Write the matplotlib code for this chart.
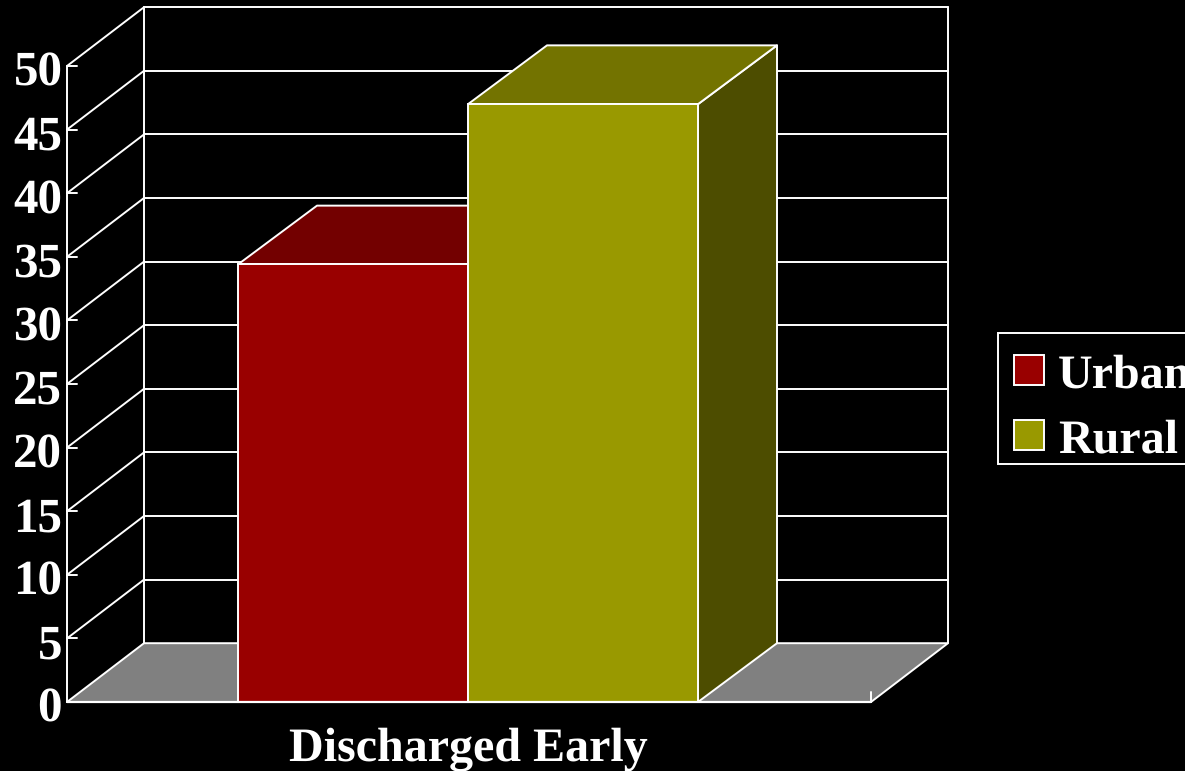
import matplotlib
matplotlib.use("Agg")
import matplotlib.pyplot as plt
from matplotlib.patches import Polygon, Rectangle

categories = ["Discharged Early"]
series_names = ["Urban", "Rural"]
series_values = [34.4, 47.0]
front_colors = ["#990000", "#999900"]
top_colors = ["#730000", "#737300"]
side_colors = ["#4d0000", "#4d4d00"]
y_ticks = [0, 5, 10, 15, 20, 25, 30, 35, 40, 45, 50]

W, H = 1185, 771
DPI = 100
LW = 1.4
FS = 34.6

plt.rcParams["font.family"] = ["Liberation Serif", "DejaVu Serif"]
plt.rcParams["font.weight"] = "bold"
plt.rcParams["text.hinting"] = "no_hinting"
plt.rcParams["text.hinting_factor"] = 1

fig = plt.figure(figsize=(W / DPI, H / DPI), dpi=DPI, facecolor="black")
# axes box is the front plane of the 3d frame
ax = fig.add_axes([67 / W, 1 - 702 / H, 804 / W, 636 / H])
ax.set_xlim(0, 1)
ax.set_ylim(0, 50)
ax.axis("off")

ppu = 636 / 50
# depth offset of the back wall in data units
dx = 77 / 804
dy = 58.8 / ppu
bar_dx = 79 / 804
bar_w = 230 / 804
center = 401 / 804


def poly(pts, fc, z):
    ax.add_patch(Polygon(pts, closed=True, facecolor=fc, edgecolor="white",
                         linewidth=LW, clip_on=False, zorder=z, joinstyle="round"))


def line(xs, ys, z=2, lw=LW):
    ax.plot(xs, ys, color="white", lw=lw, clip_on=False, zorder=z,
            solid_capstyle="round")


# floor
poly([(0, 0), (1, 0), (1 + dx, dy), (dx, dy)], "#808080", 1)

# wall grid and the slanted lines up to it
for t in y_ticks:
    if t > 0:
        line([dx, 1 + dx], [t + dy, t + dy])
        line([0, dx], [t, t + dy])
        line([0, 10 / 804], [t, t])
    ax.text(-5 / 804, t - 3 / ppu, str(t), color="white", fontsize=35,
            ha="right", va="center_baseline", clip_on=False)
line([dx, dx], [dy, 50 + dy])
line([1 + dx, 1 + dx], [dy, 50 + dy])
line([0, 0], [0, 50])
line([1, 1], [0, 10 / ppu])

# bars, front face via bar(), top and side faces offset by the depth
for i, (v, name) in enumerate(zip(series_values, series_names)):
    x0 = center + (i - 1) * bar_w
    x1 = x0 + bar_w
    poly([(x1, 0), (x1 + bar_dx, dy), (x1 + bar_dx, v + dy), (x1, v)], side_colors[i], 3 + i)
    poly([(x0, v), (x1, v), (x1 + bar_dx, v + dy), (x0 + bar_dx, v + dy)], top_colors[i], 3 + i)
    ax.bar(x0, v, width=bar_w, align="edge", color=front_colors[i],
           edgecolor="white", linewidth=LW, zorder=3 + i, clip_on=False)

line([0, 1], [0, 0], z=6, lw=1.6)

ax.text(center, -47 / ppu, categories[0], color="white", fontsize=FS,
        ha="center", va="center", clip_on=False)


def fx(px):
    return px / W


def fy(py):
    return 1 - py / H


# legend box runs off the right edge
fig.add_artist(Rectangle((fx(998), fy(464)), (1200 - 998) / W, 131 / H,
                         transform=fig.transFigure, facecolor="black",
                         edgecolor="white", linewidth=LW))
for name, color, top in zip(series_names, front_colors, [355, 420]):
    fig.add_artist(Rectangle((fx(1014), fy(top + 30)), 30 / W, 30 / H,
                             transform=fig.transFigure, facecolor=color,
                             edgecolor="white", linewidth=LW))
    fig.text(fx(1058), fy(top + 16), name, color="white", fontsize=FS,
             ha="left", va="center_baseline")

fig.savefig("out.png", dpi=DPI, facecolor="black")
